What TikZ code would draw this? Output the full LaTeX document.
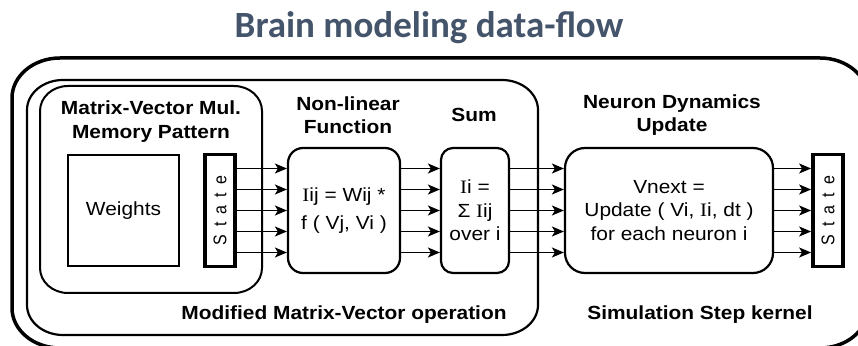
\documentclass[tikz,border=0pt]{standalone}
\usepackage{fontspec}
\setmainfont{Liberation Sans}
\newfontfamily\titlefont{Carlito}
\newfontfamily\serifI{Liberation Serif}
\usetikzlibrary{arrows.meta}
\definecolor{titleblue}{HTML}{44546A}
\newcommand{\sx}[1]{\scalebox{1.1}[1]{#1}}
\newcommand{\II}{{\serifI I}}
\newcommand{\stxt}{\rotatebox{90}{\scalebox{1}[1.15]{\fontsize{16}{18}\selectfont S\hspace{8pt}t\hspace{8pt}a\hspace{8pt}t\hspace{8pt}e}}}
\newcommand{\erect}[7]{%
\draw[#1] ({#2+#6},#5) -- ({#4-#6},#5)
  arc[start angle=90,end angle=0,x radius=#6pt,y radius=#7pt] -- (#4,{#3+#7})
  arc[start angle=0,end angle=-90,x radius=#6pt,y radius=#7pt] -- ({#2+#6},#3)
  arc[start angle=270,end angle=180,x radius=#6pt,y radius=#7pt] -- (#2,{#5-#7})
  arc[start angle=180,end angle=90,x radius=#6pt,y radius=#7pt] -- cycle;}
\tikzset{
  bold/.style={font=\bfseries\fontsize{19}{23.5}\selectfont, align=center, inner sep=0pt},
  plain/.style={font=\fontsize{19}{23.5}\selectfont, align=center, inner sep=0pt},
  fbox/.style={draw, line width=2.2pt, rounded corners=15pt, minimum height=125pt, inner sep=0pt},
  statebox/.style={draw, line width=3.8pt, minimum width=30pt, minimum height=112pt, inner sep=0pt},
  wbox/.style={draw, line width=1.5pt, minimum width=111pt, minimum height=111pt, inner sep=0pt},
  arr/.style={line width=1.5pt, -{Stealth[length=12pt,width=10pt,inset=3pt]}},
}
\begin{document}
\begin{tikzpicture}[x=1pt,y=1pt]
\useasboundingbox (0,0) rectangle (858,345);
% title
\node[font=\titlefont\bfseries\fontsize{37}{40}\selectfont, text=titleblue] (title) at (429,317) {Brain modeling data-flow};
% containers
\erect{line width=3.5pt}{12}{-3}{868}{287}{48}{40}
\erect{line width=2.2pt}{27}{10}{538}{265}{36}{30}
\erect{line width=2pt}{40}{52}{262}{259}{28}{25}
% labels
\node[bold] (mvt) at (151,223.5) {\sx{Matrix-Vector Mul.}\\\sx{Memory Pattern}};
\node[bold] (nlt) at (348,230) {\sx{Non-linear}\\\sx{Function}};
\node[bold] (sumt) at (474,230) {\sx{Sum}};
\node[bold] (ndt) at (672,230) {\sx{Neuron Dynamics}\\\sx{Update}};
\node[bold] (modt) at (344,30) {\sx{Modified Matrix-Vector operation}};
\node[bold] (simt) at (700,30) {\sx{Simulation Step kernel}};
% blocks
\node[wbox, font=\fontsize{19}{21}\selectfont] (w) at (123.5,134.5) {\sx{Weights}};
\node[statebox] (sl) at (220,134.5) {\stxt};
\node[fbox, minimum width=112pt, font=\fontsize{19}{28}\selectfont, align=center] (nl) at (344,134.5) {\sx{\II ij = Wij *}\\\sx{f ( Vj, Vi )}};
\node[fbox, minimum width=68pt, rounded corners=12pt, font=\fontsize{19}{23.5}\selectfont, align=center] (sum) at (475,134.5) {\sx{\II i =}\\\sx{Σ \II ij}\\\sx{over i}};
\node[fbox, minimum width=208pt, rounded corners=20pt, font=\fontsize{19}{23.5}\selectfont, align=center] (nd) at (669,134.5) {\sx{Vnext =}\\\sx{Update ( Vi, \II i, dt )}\\\sx{for each neuron i}};
\node[statebox] (sr) at (828,134.5) {\stxt};
% arrows
\foreach \k in {-42,-21,0,21,42}{
  \draw[arr] ([yshift=\k pt]sl.east) -- ([yshift=\k pt]nl.west);
  \draw[arr] ([yshift=\k pt]nl.east) -- ([yshift=\k pt]sum.west);
  \draw[arr] ([yshift=\k pt]sum.east) -- ([yshift=\k pt]nd.west);
  \draw[arr] ([yshift=\k pt]nd.east) -- ([yshift=\k pt]sr.west);
}
\end{tikzpicture}
\end{document}
